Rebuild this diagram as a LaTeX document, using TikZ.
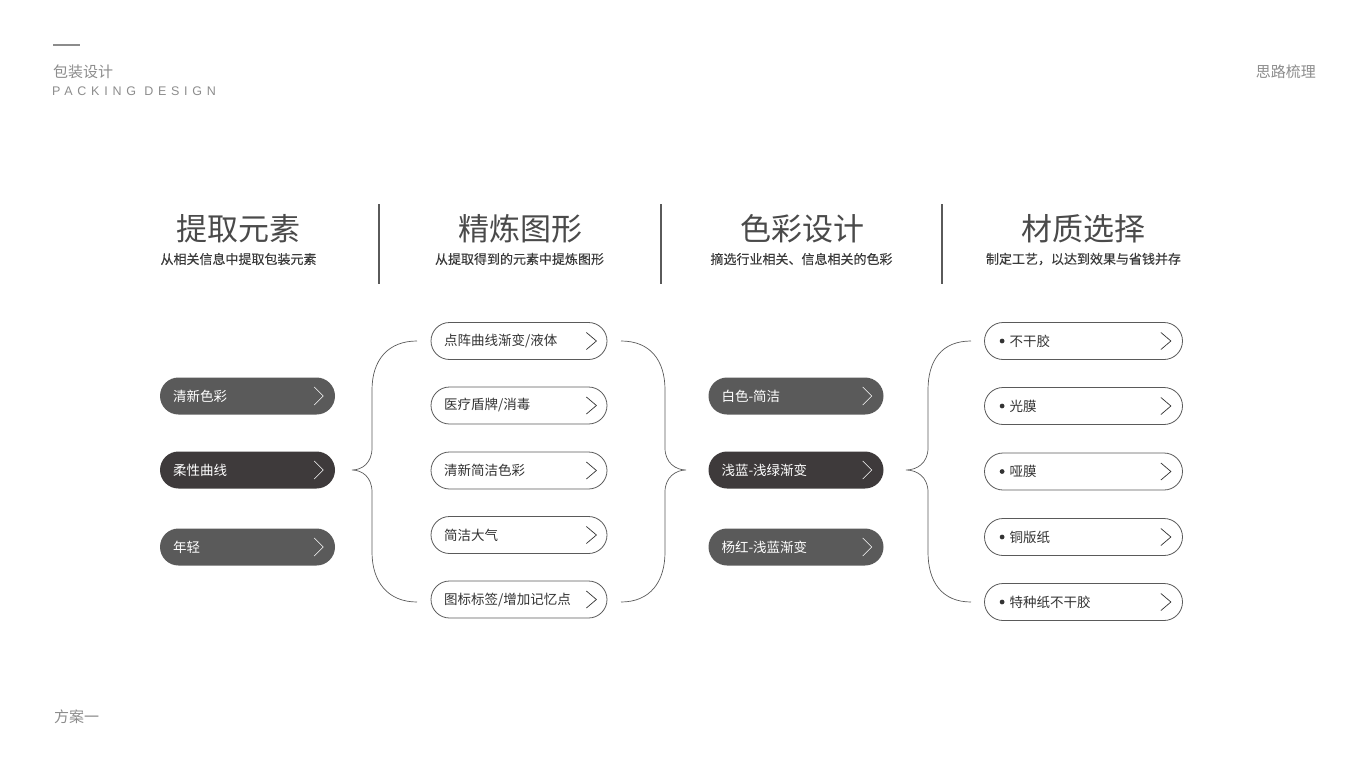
\documentclass[tikz,border=0pt]{standalone}
\usepackage{fontspec}
\setmainfont{Noto Sans CJK SC}
\newfontfamily\medfont[FakeBold=0.3]{Noto Sans CJK SC}
\newfontfamily\latinfont[LetterSpace=38]{Liberation Sans}
\definecolor{txt}{HTML}{333333}
\definecolor{sub}{HTML}{3A3A3A}
\definecolor{ttl}{HTML}{4A4A4A}
\definecolor{hdr}{HTML}{8C8C8C}
\definecolor{pillA}{HTML}{5A5A5A}
\definecolor{pillB}{HTML}{3E3A3B}
\definecolor{edge}{HTML}{5A5A5A}
\begin{document}
\begin{tikzpicture}[x=1pt,y=-1pt,
  title/.style={font=\fontsize{31}{36}\selectfont, text=ttl, inner sep=0pt},
  subt/.style={font=\medfont\fontsize{13}{15}\selectfont, text=sub, inner sep=0pt},
  sep/.style={draw=edge, line width=1.2pt},
  hdrtext/.style={font=\fontsize{15}{17}\selectfont, text=hdr, inner sep=0pt},
  pillbase/.style={rectangle, rounded corners=18.5pt, minimum height=37pt, inner ysep=0pt, inner xsep=13pt, align=left, font=\fontsize{13.5}{16}\selectfont},
  darkpill/.style={pillbase, fill=pillA, text=white, minimum width=175pt, text width=149pt},
  darkerpill/.style={darkpill, fill=pillB},
  linepill/.style={pillbase, draw=edge, line width=0.8pt, fill=white, text=txt, minimum width=176pt, text width=150pt},
  dotpill/.style={pillbase, draw=edge, line width=0.8pt, fill=white, text=txt, minimum width=198pt, text width=172pt},
  chevW/.style={draw=white, line width=0.6pt},
  chevD/.style={draw=txt, line width=0.7pt},
  brace/.style={draw=edge, line width=0.7pt}
]
\useasboundingbox (0,0) rectangle (1366,768);

% header
\coordinate (h1) at (53,45);
\coordinate (h2) at (80,45);
\draw[hdr, line width=1.4pt] (h1) -- (h2);
\node[hdrtext, anchor=west] (hd1) at (53,72) {包装设计};
\node[anchor=west, inner sep=0pt, text=hdr, font=\latinfont\fontsize{12.5}{15}\selectfont] (hd2) at (52,91) {PACKING DESIGN};
\node[hdrtext, anchor=east] (hd3) at (1316,72) {思路梳理};
\node[hdrtext, anchor=west] (hd4) at (54,717) {方案一};

% titles
\node[title] (t1) at (238.5,229) {提取元素};
\node[title] (t2) at (520,229) {精炼图形};
\node[title] (t3) at (802,229) {色彩设计};
\node[title] (t4) at (1083,229) {材质选择};
\node[subt] (s1) at (238.5,259) {从相关信息中提取包装元素};
\node[subt] (s2) at (519.5,259) {从提取得到的元素中提炼图形};
\node[subt] (s3) at (801.5,259) {摘选行业相关、信息相关的色彩};
\node[subt] (s4) at (1083.5,259) {制定工艺，以达到效果与省钱并存};
\coordinate (v1a) at (379,204); \coordinate (v1b) at (379,284);
\coordinate (v2a) at (661,204); \coordinate (v2b) at (661,284);
\coordinate (v3a) at (942,204); \coordinate (v3b) at (942,284);
\draw[sep] (v1a) -- (v1b);
\draw[sep] (v2a) -- (v2b);
\draw[sep] (v3a) -- (v3b);

% left pills
\node[darkpill] (l1) at (247.5,396) {清新色彩};
\node[darkerpill] (l2) at (247.5,470) {柔性曲线};
\node[darkpill] (l3) at (247.5,547) {年轻};

% middle pills
\node[linepill] (m1) at (519,341) {点阵曲线渐变/液体};
\node[linepill] (m2) at (519,405.5) {医疗盾牌/消毒};
\node[linepill] (m3) at (519,470.5) {清新简洁色彩};
\node[linepill] (m4) at (519,535) {简洁大气};
\node[linepill] (m5) at (519,599.5) {图标标签/增加记忆点};

% colour pills
\node[darkpill] (c1) at (796,396) {白色-简洁};
\node[darkerpill] (c2) at (796,470) {浅蓝-浅绿渐变};
\node[darkpill] (c3) at (796,547) {杨红-浅蓝渐变};

% material pills
\node[dotpill] (r1) at (1083.5,341) {\hspace*{12pt}不干胶};
\node[dotpill] (r2) at (1083.5,406) {\hspace*{12pt}光膜};
\node[dotpill] (r3) at (1083.5,471.5) {\hspace*{12pt}哑膜};
\node[dotpill] (r4) at (1083.5,537) {\hspace*{12pt}铜版纸};
\node[dotpill] (r5) at (1083.5,602) {\hspace*{12pt}特种纸不干胶};

% chevrons
\foreach \n in {l1,l2,l3,c1,c2,c3}{
  \draw[chevW] ([xshift=-21pt,yshift=9pt]\n.east) -- ([xshift=-12pt]\n.east) -- ([xshift=-21pt,yshift=-9pt]\n.east);
}
\foreach \n in {m1,m2,m3,m4,m5}{
  \draw[chevD] ([xshift=-21pt,yshift=8.5pt]\n.east) -- ([xshift=-11pt]\n.east) -- ([xshift=-21pt,yshift=-8.5pt]\n.east);
}
\foreach \n in {r1,r2,r3,r4,r5}{
  \draw[chevD] ([xshift=-22pt,yshift=8.5pt]\n.east) -- ([xshift=-12pt]\n.east) -- ([xshift=-22pt,yshift=-8.5pt]\n.east);
  \fill[txt] ([xshift=18pt]\n.west) circle (2.4);
}

% braces
\begin{scope}[shift={(352,470)}]
\draw[brace] (65,-129) .. controls (36,-129) and (20,-110) .. (20,-80) -- (20,-22)
  .. controls (20,-7) and (10,0) .. (0,0) .. controls (10,0) and (20,7) .. (20,22)
  -- (20,82) .. controls (20,112) and (36,132) .. (65,132);
\end{scope}
\begin{scope}[shift={(686,470)}, xscale=-1]
\draw[brace] (65,-129) .. controls (36,-129) and (21,-110) .. (21,-80) -- (21,-22)
  .. controls (21,-7) and (10,0) .. (0,0) .. controls (10,0) and (21,7) .. (21,22)
  -- (21,82) .. controls (21,112) and (36,132) .. (65,132);
\end{scope}
\begin{scope}[shift={(906,470)}]
\draw[brace] (65,-129) .. controls (36,-129) and (22,-110) .. (22,-80) -- (22,-22)
  .. controls (22,-7) and (11,0) .. (0,0) .. controls (11,0) and (22,7) .. (22,22)
  -- (22,82) .. controls (22,112) and (36,132) .. (65,132);
\end{scope}
\end{tikzpicture}
\end{document}
